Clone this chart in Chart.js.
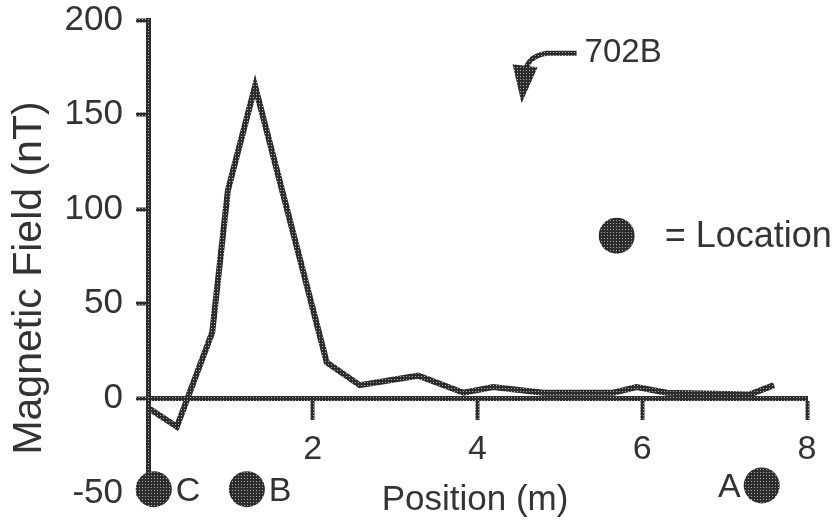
<!DOCTYPE html>
<html>
<head>
<meta charset="utf-8">
<script src="https://cdn.jsdelivr.net/npm/chart.js@4.4.1/dist/chart.umd.min.js"></script>
<style>
  body { margin: 0; background: #fff; }
  #wrap { width: 838px; height: 520px; position: relative; }
</style>
</head>
<body>
<div id="wrap"><canvas id="chart"></canvas></div>
<script>
// magnetic field profile (position in m, field in nT)
var posicion = [0, 0.35, 0.78, 0.97, 1.30, 2.17, 2.57, 3.28, 3.83, 4.19, 4.8, 5.65, 5.93, 6.3, 7.3, 7.6];
var campo    = [-5, -15, 35, 110, 165, 19, 7, 12, 3, 6, 3, 3, 6, 3, 2, 7];

// marked locations along the line
var lugares  = ["C", "B", "A"];
var lugarX   = [0.07, 1.2, 7.45];
var lugarY   = [-48, -48, -46];

var ticksX = [2, 4, 6, 8];
var ticksY = [-50, 0, 50, 100, 150, 200];

var FUENTE = "'Liberation Sans', Arial, sans-serif";
var TINTA = "#333333";

// scanned halftone look for strokes and dots
function trama(oscuro, claro){
  var c = document.createElement('canvas');
  c.width = 3; c.height = 3;
  var g = c.getContext('2d');
  g.fillStyle = oscuro; g.fillRect(0, 0, 3, 3);
  g.fillStyle = claro; g.fillRect(1, 1, 1, 1);
  return g.createPattern(c, 'repeat');
}
var relleno = trama("#2c2c2c", "#b0b0b0");

var puntos = posicion.map(function(x, i){ return {x: x, y: campo[i]}; });
var marcas = lugarX.map(function(x, i){ return {x: x, y: lugarY[i]}; });

var extras = {
  id: 'extras',
  afterDatasetsDraw: function(chart){
    var ctx = chart.ctx;
    var sx = chart.scales.x, sy = chart.scales.y;
    ctx.save();
    ctx.fillStyle = TINTA;
    ctx.font = "35px " + FUENTE;

    // axis titles
    ctx.textAlign = "center";
    ctx.textBaseline = "middle";
    ctx.fillText("Position (m)", 475, 500);
    ctx.save();
    ctx.translate(30, 278);
    ctx.rotate(-Math.PI / 2);
    ctx.font = "41px " + FUENTE;
    ctx.fillText("Magnetic Field (nT)", 0, 0);
    ctx.restore();

    // location letters
    ctx.font = "34px " + FUENTE;
    ctx.textBaseline = "middle";
    lugares.forEach(function(l, i){
      var px = sx.getPixelForValue(lugarX[i]);
      var py = sy.getPixelForValue(lugarY[i]) + 2;
      if (l === "A") {
        ctx.textAlign = "right";
        ctx.fillText(l, px - 21, py);
      } else {
        ctx.textAlign = "left";
        ctx.fillText(l, px + 22, py);
      }
    });

    // "= Location" key
    var lx = sx.getPixelForValue(5.69), ly = sy.getPixelForValue(86);
    ctx.fillStyle = relleno;
    ctx.beginPath();
    ctx.arc(lx, ly, 18, 0, Math.PI * 2);
    ctx.fill();
    ctx.fillStyle = TINTA;
    ctx.textAlign = "left";
    ctx.font = "36px " + FUENTE;
    ctx.fillText("= Location", lx + 48, ly + 1);

    // 702B callout
    var ax = sx.getPixelForValue(5.30), ay = sy.getPixelForValue(183);
    ctx.font = "33px " + FUENTE;
    ctx.fillText("702B", ax, ay + 1);
    ctx.strokeStyle = relleno;
    ctx.lineWidth = 5;
    ctx.beginPath();
    ctx.moveTo(ax - 8, ay + 1);
    ctx.lineTo(ax - 38, ay + 1);
    ctx.quadraticCurveTo(ax - 55, ay + 4, ax - 58, ay + 15);
    ctx.stroke();
    ctx.fillStyle = relleno;
    ctx.beginPath();
    ctx.moveTo(ax - 72, ay + 12);
    ctx.lineTo(ax - 47, ay + 15);
    ctx.lineTo(ax - 63, ay + 51);
    ctx.closePath();
    ctx.fill();
    ctx.restore();
  }
};

var ctx = document.getElementById('chart').getContext('2d');
window.grafico = new Chart(ctx, {
  type: 'scatter',
  data: {
    datasets: [{
      label: "Magnetic Field",
      data: puntos,
      showLine: true,
      borderColor: relleno,
      borderWidth: 6,
      pointRadius: 0,
      tension: 0,
      clip: false
    },
    {
      label: "Location",
      data: marcas,
      showLine: false,
      pointRadius: 18,
      pointBackgroundColor: relleno,
      pointBorderWidth: 0,
      clip: false
    }]
  },
  options: {
    responsive: true,
    maintainAspectRatio: false,
    animation: false,
    layout: { padding: { left: 48, right: 31, top: 20, bottom: 27 } },
    plugins: { legend: { display: false }, tooltip: { enabled: false } },
    scales: {
      x: {
        type: 'linear',
        position: { y: 0 },
        min: 0,
        max: 8,
        afterBuildTicks: function(s){ s.ticks = ticksX.map(function(v){ return {value: v}; }); },
        afterFit: function(s){ s.paddingLeft = 0; s.paddingRight = 0; },
        border: { display: true, color: relleno, width: 5 },
        grid: { drawOnChartArea: false, drawTicks: true, tickLength: 19, tickWidth: 4, color: relleno },
        ticks: { color: TINTA, font: { family: FUENTE, size: 34 }, padding: 12, maxRotation: 0 }
      },
      y: {
        type: 'linear',
        position: 'left',
        min: -50,
        max: 200,
        afterBuildTicks: function(s){ s.ticks = ticksY.map(function(v){ return {value: v}; }); },
        afterFit: function(s){ s.width = 100; s.paddingTop = 0; s.paddingBottom = 0; },
        border: { display: true, color: relleno, width: 5 },
        grid: { drawOnChartArea: false, drawTicks: true, tickLength: 12, tickWidth: 4, color: relleno },
        ticks: { color: TINTA, font: { family: FUENTE, size: 35 }, padding: 13 }
      }
    }
  },
  plugins: [extras]
});
</script>
</body>
</html>
